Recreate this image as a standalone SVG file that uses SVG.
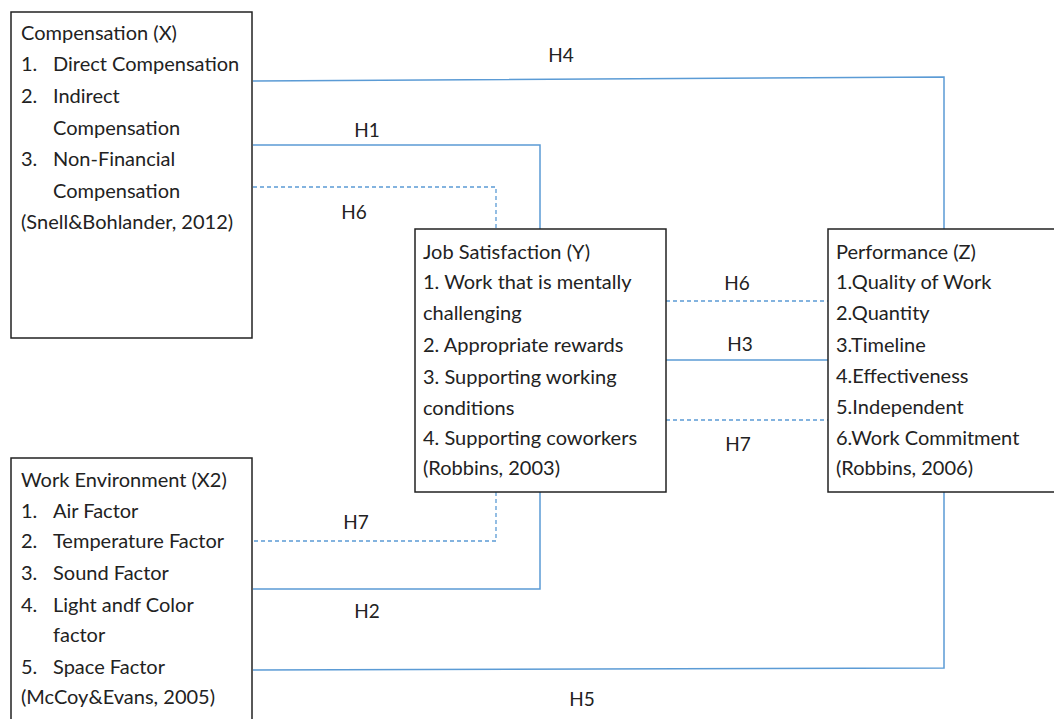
<svg xmlns="http://www.w3.org/2000/svg" width="1054" height="719" viewBox="0 0 1054 719">
<style>
.box{fill:#fff;stroke:#222;stroke-width:1.5}
.t{font-family:Lato,"Liberation Sans",sans-serif;font-size:20px;fill:#222}
.lbl{font-family:Lato,"Liberation Sans",sans-serif;font-size:19px;fill:#222;text-anchor:middle}
.c{fill:none;stroke:#5B9BD5;stroke-width:1.5}
.d{fill:none;stroke:#5B9BD5;stroke-width:1.3;stroke-dasharray:4 3}
</style>
<rect width="1054" height="719" fill="#fff"/>
<g id="connectors">
<polyline class="c" points="253,81 944,77 944,229"/>
<polyline class="c" points="253,145 540,145 540,229"/>
<polyline class="d" points="253,187 496,187 496,229"/>
<line class="d" x1="666" y1="301" x2="828" y2="301"/>
<line class="c" x1="666" y1="360" x2="828" y2="360"/>
<line class="d" x1="666" y1="420" x2="828" y2="420"/>
<polyline class="d" points="496,492 496,541 253,541"/>
<polyline class="c" points="540,492 540,589 253,589"/>
<polyline class="c" points="944,492 944,668 253,670"/>
<text class="lbl" x="561" y="62">H4</text>
<text class="lbl" x="367" y="137">H1</text>
<text class="lbl" x="354" y="219">H6</text>
<text class="lbl" x="737" y="290">H6</text>
<text class="lbl" x="740" y="351">H3</text>
<text class="lbl" x="738" y="451">H7</text>
<text class="lbl" x="356" y="529">H7</text>
<text class="lbl" x="367" y="618">H2</text>
<text class="lbl" x="582" y="706">H5</text>
</g>
<g id="compensation">
<rect class="box" x="11" y="12" width="241" height="326"/>
<text class="t" x="21" y="40">Compensation (X)</text>
<text class="t" x="21" y="71">1.</text><text class="t" x="53" y="71">Direct Compensation</text>
<text class="t" x="21" y="103">2.</text><text class="t" x="53" y="103">Indirect</text>
<text class="t" x="53" y="135">Compensation</text>
<text class="t" x="21" y="166">3.</text><text class="t" x="53" y="166">Non-Financial</text>
<text class="t" x="53" y="198">Compensation</text>
<text class="t" x="21" y="229">(Snell&amp;Bohlander, 2012)</text>
</g>
<g id="job-satisfaction">
<rect class="box" x="415" y="229" width="251" height="263"/>
<text class="t" x="423" y="259">Job Satisfaction (Y)</text>
<text class="t" x="423" y="289">1. Work that is mentally</text>
<text class="t" x="423" y="320">challenging</text>
<text class="t" x="423" y="352">2. Appropriate rewards</text>
<text class="t" x="423" y="384">3. Supporting working</text>
<text class="t" x="423" y="415">conditions</text>
<text class="t" x="423" y="445">4. Supporting coworkers</text>
<text class="t" x="423" y="475">(Robbins, 2003)</text>
</g>
<g id="performance">
<rect class="box" x="828" y="229" width="240" height="263"/>
<text class="t" x="836" y="259">Performance (Z)</text>
<text class="t" x="836" y="289">1.Quality of Work</text>
<text class="t" x="836" y="320">2.Quantity</text>
<text class="t" x="836" y="352">3.Timeline</text>
<text class="t" x="836" y="383">4.Effectiveness</text>
<text class="t" x="836" y="414">5.Independent</text>
<text class="t" x="836" y="445">6.Work Commitment</text>
<text class="t" x="836" y="475">(Robbins, 2006)</text>
</g>
<g id="work-environment">
<rect class="box" x="11" y="458" width="241" height="280"/>
<text class="t" x="21" y="487">Work Environment (X2)</text>
<text class="t" x="21" y="518">1.</text><text class="t" x="53" y="518">Air Factor</text>
<text class="t" x="21" y="548">2.</text><text class="t" x="53" y="548">Temperature Factor</text>
<text class="t" x="21" y="580">3.</text><text class="t" x="53" y="580">Sound Factor</text>
<text class="t" x="21" y="612">4.</text><text class="t" x="53" y="612">Light andf Color</text>
<text class="t" x="53" y="642">factor</text>
<text class="t" x="21" y="674">5.</text><text class="t" x="53" y="674">Space Factor</text>
<text class="t" x="21" y="704">(McCoy&amp;Evans, 2005)</text>
</g>
</svg>
